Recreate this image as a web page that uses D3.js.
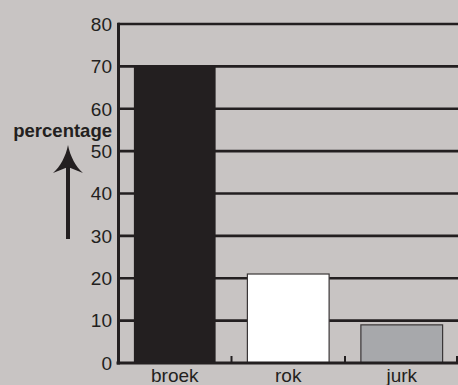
<!DOCTYPE html>
<html><head><meta charset="utf-8">
<script src="https://cdn.jsdelivr.net/npm/d3@7"></script>
<style>
html,body{margin:0;padding:0;background:#c8c4c3;}
svg{display:block;}
text{font-family:"Liberation Sans",Arial,sans-serif;fill:#231f20;}
</style></head>
<body>
<script>
const categories = ["broek", "rok", "jurk"];
const values = [70, 21, 9];
const barColors = ["#231f20", "#ffffff", "#a7a8ab"];
const yTicks = [0, 10, 20, 30, 40, 50, 60, 70, 80];
const yLabel = "percentage";

const W = 458, H = 385;
const svg = d3.select("body").append("svg").attr("width", W).attr("height", H);
svg.append("rect").attr("width", W).attr("height", H).attr("fill", "#c8c4c3");

const x = d3.scaleBand().domain(categories).range([118, 458.5]).padding(0);
const y = d3.scaleLinear().domain([0, 80]).range([363, 24]);
const ink = "#231f20";

// gridlines
svg.append("g").selectAll("line").data(yTicks.filter(d => d > 0)).join("line")
  .attr("x1", 118).attr("x2", W)
  .attr("y1", d => y(d)).attr("y2", d => y(d))
  .attr("stroke", ink).attr("stroke-width", 2.6);

// bars
const bw = x.bandwidth() * 0.72;
svg.append("g").selectAll("rect").data(values).join("rect")
  .attr("x", (d, i) => x(categories[i]) + (x.bandwidth() - bw) / 2)
  .attr("y", d => y(d))
  .attr("width", bw)
  .attr("height", d => y(0) - y(d))
  .attr("fill", (d, i) => barColors[i])
  .attr("stroke", (d, i) => i === 0 ? "none" : "#3a3637")
  .attr("stroke-width", 1.2);

// x axis baseline
svg.append("line").attr("x1", 116.5).attr("x2", W).attr("y1", y(0)).attr("y2", y(0))
  .attr("stroke", ink).attr("stroke-width", 3);
// category boundary ticks
svg.append("g").selectAll("line").data(categories).join("line")
  .attr("x1", d => Math.min(x(d) + x.bandwidth(), 457)).attr("x2", d => Math.min(x(d) + x.bandwidth(), 457))
  .attr("y1", y(0)).attr("y2", y(0) - 7)
  .attr("stroke", ink).attr("stroke-width", 2);
// y axis line
svg.append("line").attr("x1", 118.5).attr("x2", 118.5).attr("y1", y(80) - 1.3).attr("y2", y(0) + 1.5)
  .attr("stroke", ink).attr("stroke-width", 3);

// y tick labels
svg.append("g").selectAll("text").data(yTicks).join("text")
  .attr("x", 112).attr("y", d => y(d)).attr("dy", "0.36em")
  .attr("text-anchor", "end").attr("font-size", 19).text(d => d);

// category labels
svg.append("g").selectAll("text").data(categories).join("text")
  .attr("x", d => x(d) + x.bandwidth() / 2).attr("y", 382)
  .attr("text-anchor", "middle").attr("font-size", 19).text(d => d);

// y label
svg.append("text").attr("x", 112).attr("y", 137).attr("text-anchor", "end")
  .attr("font-size", 18.5).attr("font-weight", "bold").text(yLabel);

// arrow
svg.append("line").attr("x1", 68).attr("x2", 68).attr("y1", 239).attr("y2", 165)
  .attr("stroke", ink).attr("stroke-width", 4);
svg.append("path").attr("d", "M68,145 C70,156 76,167 83,173 L68,167 L53,173 C60,167 66,156 68,145 Z")
  .attr("fill", ink);
</script>
</body></html>
